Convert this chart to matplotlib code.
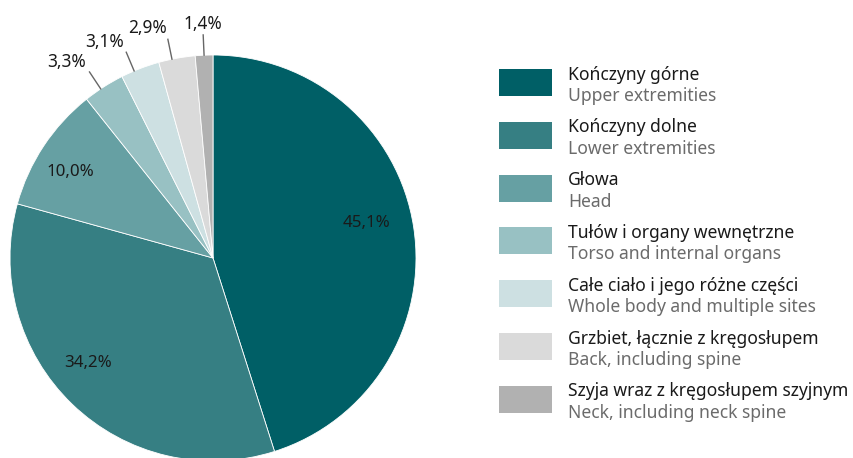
import matplotlib
matplotlib.use("Agg")
import matplotlib.pyplot as plt
from matplotlib.patches import Rectangle
import numpy as np

# udział procentowy wg części ciała
values = [45.1, 34.2, 10.0, 3.3, 3.1, 2.9, 1.4]
labels_pl = ["Kończyny górne", "Kończyny dolne", "Głowa", "Tułów i organy wewnętrzne",
             "Całe ciało i jego różne części", "Grzbiet, łącznie z kręgosłupem",
             "Szyja wraz z kręgosłupem szyjnym"]
labels_en = ["Upper extremities", "Lower extremities", "Head", "Torso and internal organs",
             "Whole body and multiple sites", "Back, including spine",
             "Neck, including neck spine"]
colors = ["#005f66", "#367f83", "#66a0a3", "#98c1c3", "#cde0e2", "#dadada", "#b1b1b1"]

plt.rcParams["font.family"] = ["Noto Sans", "DejaVu Sans"]

W, H = 854, 458
fig = plt.figure(figsize=(W / 100, H / 100), dpi=100)
ax = fig.add_axes([0, 0, 1, 1])

cx, cy, r = 213, H - 258, 203
wedges, _ = ax.pie(values, colors=colors, startangle=90, counterclock=False,
                   center=(cx, cy), radius=r,
                   wedgeprops=dict(edgecolor="white", linewidth=0.6))

# drobne przesunięcia etykiet (px dla wewnętrznych, stopnie dla zewnętrznych)
inner_shift = [(-7, 10), (-12, 12), (-7, -4)]
outer_turn = [0, 0, 0, 1.0, 1.8, 1.4, 0]

for i, (w, v) in enumerate(zip(wedges, values)):
    ang = np.deg2rad((w.theta1 + w.theta2) / 2)
    txt = f"{v:.1f}%".replace(".", ",")
    if v >= 10:
        d = 0.8 * r
        dx, dy = inner_shift[i]
        ax.text(cx + d * np.cos(ang) + dx, cy + d * np.sin(ang) + dy, txt,
                ha="center", va="center", fontsize=12.2, color="#1a1a1a")
    else:
        ang += np.deg2rad(outer_turn[i])
        c, s = np.cos(ang), np.sin(ang)
        ax.plot([cx + r * c, cx + 1.10 * r * c], [cy + r * s, cy + 1.10 * r * s],
                color="#666666", linewidth=1)
        ha = "right" if c < -0.15 else "center"
        ax.text(cx + 1.13 * r * c, cy + 1.13 * r * s, txt, ha=ha, va="baseline",
                fontsize=12.4, color="#1a1a1a")

# legenda
step = 52.8
for i in range(len(values)):
    top = 69 + step * i
    ax.add_patch(Rectangle((499, H - top - 27), 53, 27, facecolor=colors[i], edgecolor="none"))
    ax.text(568, H - (79.5 + step * i), labels_pl[i], ha="left", va="baseline",
            fontsize=12.6, color="#1a1a1a")
    ax.text(568, H - (101 + step * i), labels_en[i], ha="left", va="baseline",
            fontsize=12.6, color="#6b6b6b")

ax.set_xlim(0, W)
ax.set_ylim(0, H)
ax.set_aspect("equal")
ax.axis("off")

fig.savefig("out.png", dpi=100)
